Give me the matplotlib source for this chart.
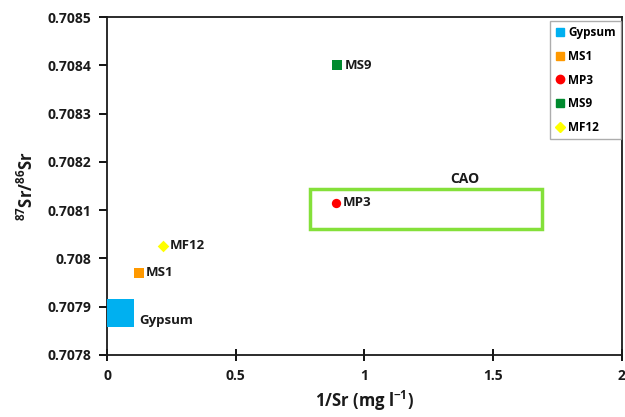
import matplotlib
matplotlib.use("Agg")
import matplotlib.pyplot as plt
from matplotlib.lines import Line2D

#---------------------------------------------------
# data
#---------------------------------------------------
samples = ["Gypsum", "MS1", "MP3", "MS9", "MF12"]
inv_sr = [0.05, 0.124, 0.888, 0.895, 0.217]
sr_ratio = [0.707888, 0.70797, 0.708115, 0.70840, 0.708026]

cao_x = [0.79, 1.69]
cao_y = [0.708061, 0.708144]

colors = ["#00B0F0", "#FF9900", "#FF0000", "#008A2E", "#FFFF00"]
markers = ["s", "s", "o", "s", "D"]
sizes = [420, 45, 45, 45, 35]

FONT = ["Open Sans", "DejaVu Sans"]
plt.rcParams["font.family"] = FONT
plt.rcParams["font.weight"] = "bold"
plt.rcParams["mathtext.fontset"] = "custom"
plt.rcParams["mathtext.rm"] = "Open Sans:bold"
plt.rcParams["mathtext.bf"] = "Open Sans:bold"

fig = plt.figure(figsize=(6.25, 4.17), dpi=100)
ax = fig.add_axes([0.1712, 0.1487, 0.8238, 0.8103])

for i, name in enumerate(samples):
    ax.scatter(inv_sr[i], sr_ratio[i], s=sizes[i], marker=markers[i],
               color=colors[i], linewidths=0, zorder=3)

# label offsets (points)
offsets = {"Gypsum": (14, -6), "MS1": (5, 0), "MP3": (5, 0), "MS9": (5, 0), "MF12": (5, 0)}
for i, name in enumerate(samples):
    ax.annotate(name, (inv_sr[i], sr_ratio[i]), xytext=offsets[name],
                textcoords="offset points", ha="left", va="center",
                fontsize=9.5, fontweight="bold", color="#1a1a1a")

ax.add_patch(plt.Rectangle((cao_x[0], cao_y[0]), cao_x[1] - cao_x[0], cao_y[1] - cao_y[0],
                           fill=False, edgecolor="#84E03A", linewidth=2.5, zorder=2))
ax.text((cao_x[0] + cao_x[1]) / 2 + 0.15, cao_y[1] + 0.000006, "CAO",
        ha="center", va="bottom", fontsize=10, fontweight="bold", color="#1a1a1a")

ax.set_xlim(0, 2)
ax.set_ylim(0.7078, 0.7085)
ax.set_xticks([0, 0.5, 1, 1.5, 2])
ax.set_xticklabels(["0", "0.5", "1", "1.5", "2"])
yt = [0.7078, 0.7079, 0.708, 0.7081, 0.7082, 0.7083, 0.7084, 0.7085]
ax.set_yticks(yt)
ax.set_yticklabels([("%g" % v) for v in yt])
ax.tick_params(axis="x", direction="inout", length=8, width=1.3, labelsize=10, pad=6)
ax.tick_params(axis="y", direction="out", length=6, width=1.3, labelsize=10, pad=5)
for lab in ax.get_xticklabels() + ax.get_yticklabels():
    lab.set_fontweight("bold")
    lab.set_color("#1a1a1a")
for sp in ax.spines.values():
    sp.set_linewidth(1.3)
    sp.set_color("#1a1a1a")

ax.set_xlabel("1/Sr (mg l$^{-1}$)", fontsize=12, fontweight="bold", color="#1a1a1a", labelpad=4)
ax.set_ylabel("$^{87}$Sr/$^{86}$Sr", fontsize=12, fontweight="bold", color="#1a1a1a", labelpad=8)

handles = [Line2D([], [], linestyle="none", marker=markers[i], color=colors[i],
                  markersize=6 if markers[i] != "D" else 5) for i in range(len(samples))]
leg = ax.legend(handles, samples, loc="upper right", bbox_to_anchor=(1.0, 0.99),
                fontsize=8.5, frameon=True, fancybox=False, borderpad=0.45,
                handlelength=0.8, handletextpad=0.3, labelspacing=0.9, borderaxespad=0.05)
leg.get_frame().set_edgecolor("#999999")
leg.get_frame().set_linewidth(1.0)
for t in leg.get_texts():
    t.set_fontweight("bold")

fig.savefig("out.png", dpi=100)
